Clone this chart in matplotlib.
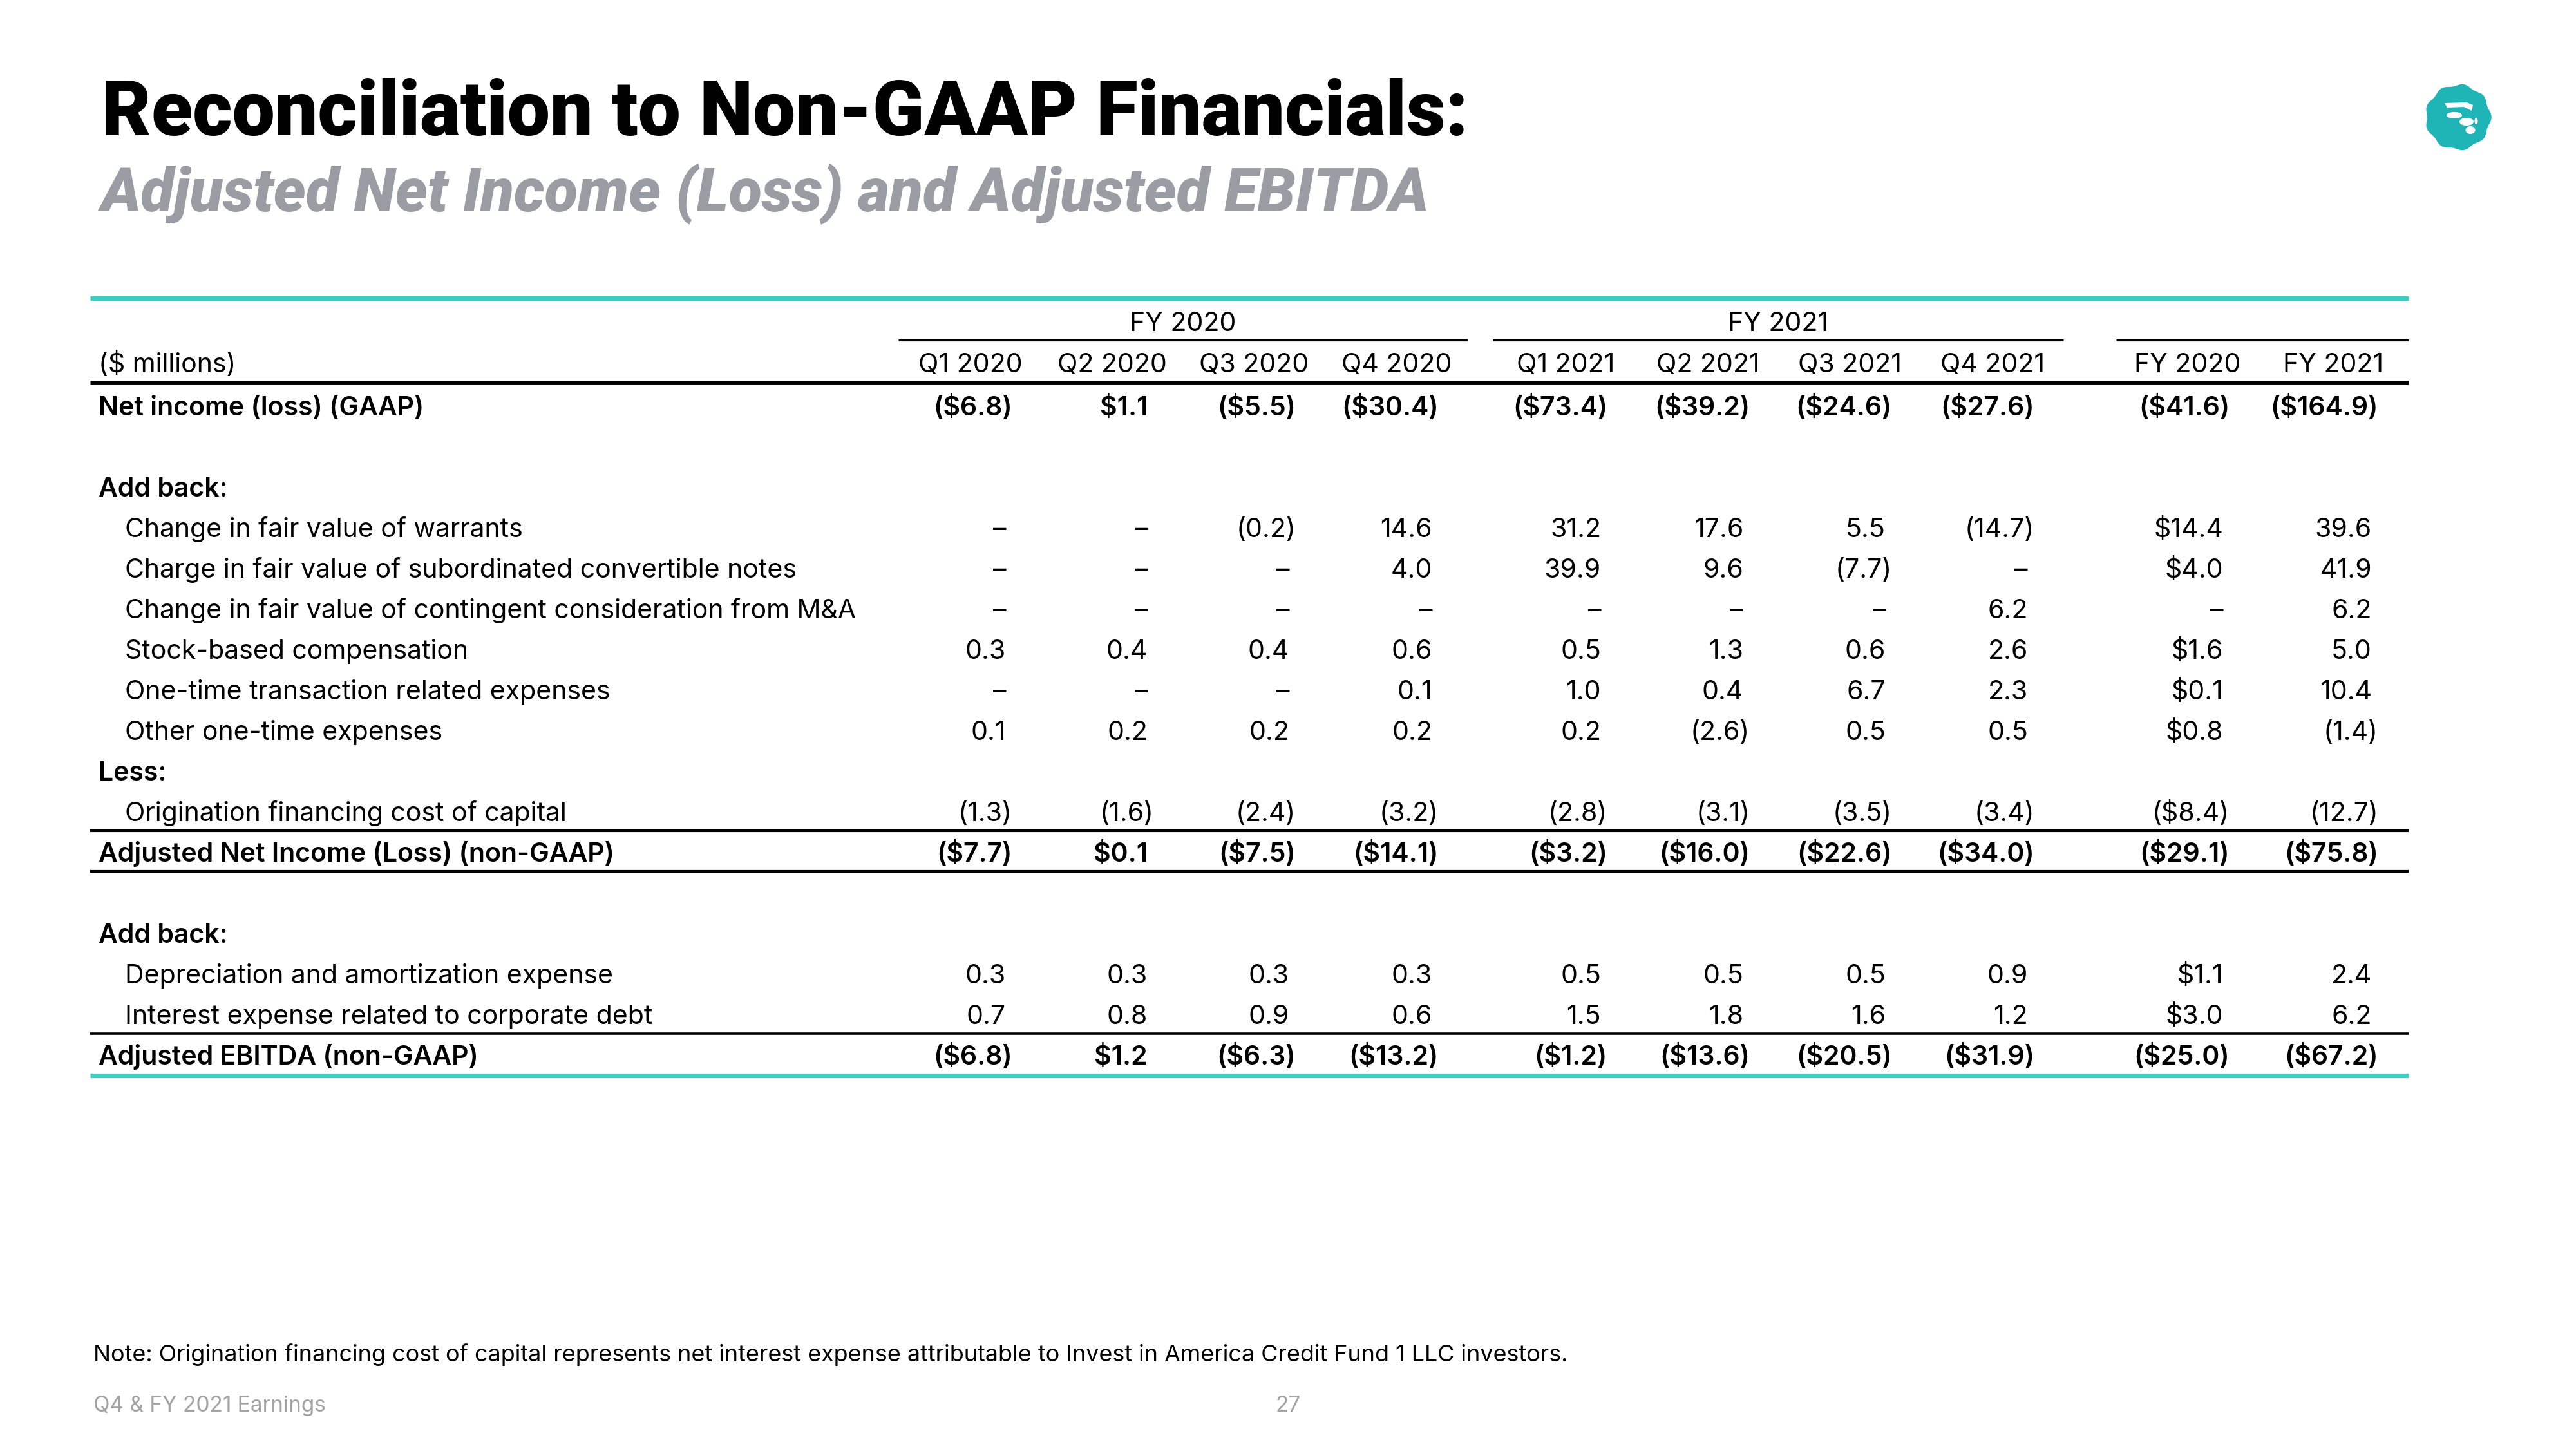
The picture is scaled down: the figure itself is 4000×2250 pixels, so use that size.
import matplotlib
matplotlib.use("Agg")
import matplotlib.pyplot as plt
import numpy as np

plt.rcParams["font.family"] = ["Inter", "DejaVu Sans"]

# ---- data -----------------------------------------------------------------
periods = ["Q1 2020", "Q2 2020", "Q3 2020", "Q4 2020",
           "Q1 2021", "Q2 2021", "Q3 2021", "Q4 2021",
           "FY 2020", "FY 2021"]
groups = ["FY 2020", "FY 2021", ""]

# None = dash in the table
net_income = [-6.8, 1.1, -5.5, -30.4, -73.4, -39.2, -24.6, -27.6, -41.6, -164.9]
chg_warrants = [None, None, -0.2, 14.6, 31.2, 17.6, 5.5, -14.7, 14.4, 39.6]
chg_conv_notes = [None, None, None, 4.0, 39.9, 9.6, -7.7, None, 4.0, 41.9]
chg_contingent = [None, None, None, None, None, None, None, 6.2, None, 6.2]
stock_comp = [0.3, 0.4, 0.4, 0.6, 0.5, 1.3, 0.6, 2.6, 1.6, 5.0]
one_time_tx = [None, None, None, 0.1, 1.0, 0.4, 6.7, 2.3, 0.1, 10.4]
other_one_time = [0.1, 0.2, 0.2, 0.2, 0.2, -2.6, 0.5, 0.5, 0.8, -1.4]
origination_cost = [-1.3, -1.6, -2.4, -3.2, -2.8, -3.1, -3.5, -3.4, -8.4, -12.7]
adj_net_income = [-7.7, 0.1, -7.5, -14.1, -3.2, -16.0, -22.6, -34.0, -29.1, -75.8]
dep_amort = [0.3, 0.3, 0.3, 0.3, 0.5, 0.5, 0.5, 0.9, 1.1, 2.4]
interest_debt = [0.7, 0.8, 0.9, 0.6, 1.5, 1.8, 1.6, 1.2, 3.0, 6.2]
adj_ebitda = [-6.8, 1.2, -6.3, -13.2, -1.2, -13.6, -20.5, -31.9, -25.0, -67.2]

# (label, values, bold, indent, dollar on every column)
rows = [
    ("Net income (loss) (GAAP)", net_income, True, False, True),
    None,
    ("Add back:", None, True, False, False),
    ("Change in fair value of warrants", chg_warrants, False, True, False),
    ("Charge in fair value of subordinated convertible notes", chg_conv_notes, False, True, False),
    ("Change in fair value of contingent consideration from M&A", chg_contingent, False, True, False),
    ("Stock-based compensation", stock_comp, False, True, False),
    ("One-time transaction related expenses", one_time_tx, False, True, False),
    ("Other one-time expenses", other_one_time, False, True, False),
    ("Less:", None, True, False, False),
    ("Origination financing cost of capital", origination_cost, False, True, False),
    ("Adjusted Net Income (Loss) (non-GAAP)", adj_net_income, True, False, True),
    None,
    ("Add back:", None, True, False, False),
    ("Depreciation and amortization expense", dep_amort, False, True, False),
    ("Interest expense related to corporate debt", interest_debt, False, True, False),
    ("Adjusted EBITDA (non-GAAP)", adj_ebitda, True, False, True),
]

TEAL = "#3dcfc4"
LOGO = "#1fb4b6"
GREY = "#9a9ca3"


def fmt(v, dollar):
    if v is None:
        return "\u2013"
    s = ("$" if dollar else "") + f"{abs(v):.1f}"
    return f"({s})" if v < 0 else s


# ---- layout ---------------------------------------------------------------
fig = plt.figure(figsize=(40, 22.5), dpi=100)
ax = fig.add_axes([0, 0, 1, 1])
ax.set_xlim(0, 4000)
ax.set_ylim(2250, 0)
ax.axis("off")

x_left, x_right = 140, 3740
x_label, x_indent = 153, 194
col_center = [1507, 1727, 1947, 2169, 2431, 2652, 2873, 3094, 3397, 3623]
col_right = [c + 65 for c in col_center]
col_right[-1] += 5
paren_w = 10
row_y0, row_step = 630, 63.0
base_off = 15
fs = 29.5

# title
ax.text(158, 210, "Reconciliation to Non-GAAP Financials:", fontsize=85,
        family=["Roboto", "DejaVu Sans"], fontweight="black", color="black",
        va="baseline")
ax.text(156, 327, "Adjusted Net Income (Loss) and Adjusted EBITDA", fontsize=68,
        family=["Roboto", "DejaVu Sans"], fontweight="black", style="italic",
        color=GREY, va="baseline")

# logo
th = np.linspace(0, 2 * np.pi, 400)
rr = 50 * (1 + 0.035 * np.cos(9 * th))
ax.fill(3817 + rr * np.cos(th), 182 + rr * np.sin(th), color=LOGO, lw=0)
ax.fill([3796, 3830, 3840, 3838, 3826, 3800], [160, 159, 163, 172, 166, 167],
        color="white", lw=0)
for cx, cy, w, h in [(3811, 179, 24, 10), (3830, 189, 22, 12),
                     (3845, 188, 5, 10), (3836, 202, 15, 12)]:
    ax.add_patch(matplotlib.patches.Ellipse((cx, cy), w, h, color="white", lw=0))

# top teal rule
ax.plot([x_left, x_right], [463, 463], color=TEAL, lw=5.2, solid_capstyle="butt")

# group headers
group_spans = [(1395, 2279), (2318, 3204), (3286, 3740)]
for name, (a, b) in zip(groups, group_spans):
    ax.plot([a, b], [528, 528], color="black", lw=2.3, solid_capstyle="butt")
    if name:
        ax.text((a + b) / 2, 514, name, fontsize=fs, ha="center", va="baseline")

# column headers
ax.text(x_label, 578, "($ millions)", fontsize=fs, va="baseline")
for c, p in zip(col_center, periods):
    ax.text(c, 578, p, fontsize=fs, ha="center", va="baseline")
ax.plot([x_left, x_right], [594, 594], color="black", lw=5.0, solid_capstyle="butt")

# body
for i, row in enumerate(rows):
    if row is None:
        continue
    label, vals, bold, indent, dollar_all = row
    yb = row_y0 + i * row_step + base_off
    w = "semibold" if bold else "normal"
    ax.text(x_indent if indent else x_label, yb, label, fontsize=fs,
            fontweight=w, va="baseline")
    if vals is None:
        continue
    for j, v in enumerate(vals):
        dollar = dollar_all or periods[j] == "FY 2020" and v is not None
        s = fmt(v, dollar)
        x = col_right[j] - (0 if (v is not None and v < 0) else paren_w)
        ax.text(x, yb, s, fontsize=fs, fontweight=w, ha="right", va="baseline")

# rules around subtotals
for y, lw in [(1290, 3.0), (1353, 3.0), (1605, 2.6)]:
    ax.plot([x_left, x_right], [y, y], color="black", lw=lw, solid_capstyle="butt")
ax.plot([x_left, x_right], [1670, 1670], color=TEAL, lw=5.2, solid_capstyle="butt")

# footer
ax.text(145, 2114, "Note: Origination financing cost of capital represents net interest "
        "expense attributable to Invest in America Credit Fund 1 LLC investors.",
        fontsize=25.8, va="baseline")
ax.text(145, 2192, "Q4 & FY 2021 Earnings", fontsize=24, color="#a3a3a3", va="baseline")
ax.text(2000, 2192, "27", fontsize=24, color="#a3a3a3", ha="center", va="baseline")

fig.savefig("out.png", dpi=100, facecolor="white")
